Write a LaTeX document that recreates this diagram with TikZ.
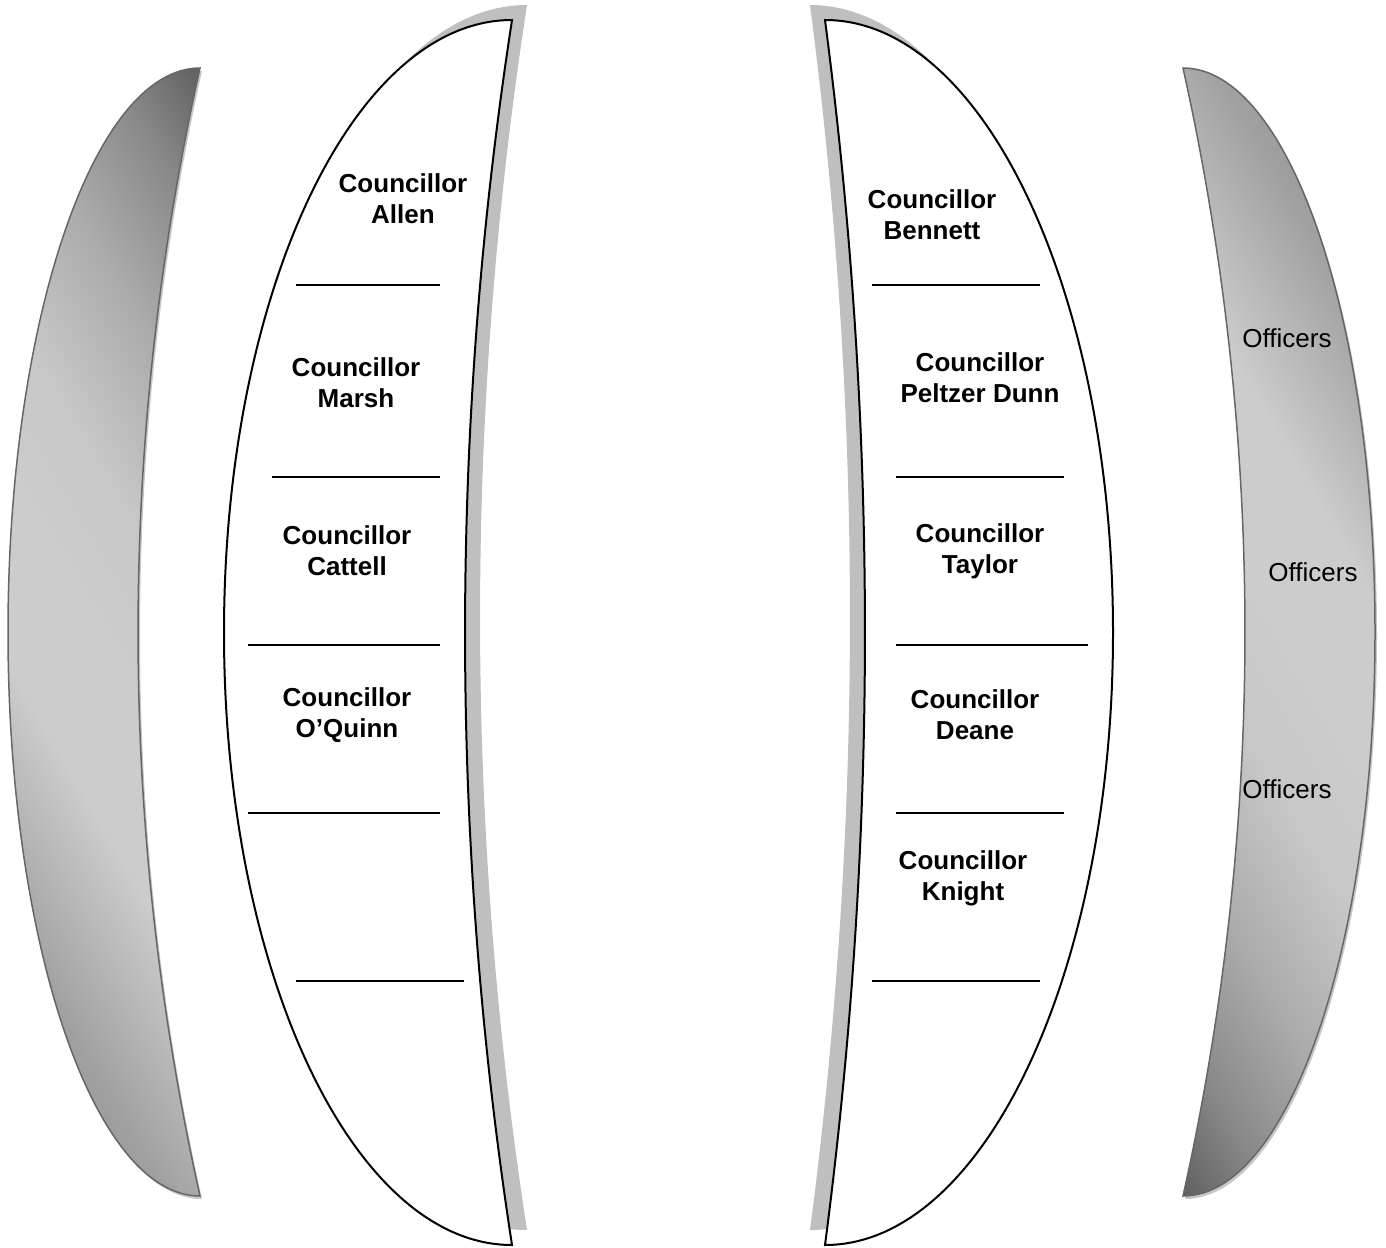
\documentclass[tikz,border=0pt]{standalone}
\usepackage{fontspec}
\setmainfont{Liberation Sans}
\pgfdeclareverticalshading{moonfill}{100bp}{color(0bp)=(black!42); color(25bp)=(black!40); color(28.5bp)=(black!37); color(40.8bp)=(black!20); color(50bp)=(black!20); color(57.7bp)=(black!22); color(67.8bp)=(black!33); color(76.8bp)=(black!46); color(84.2bp)=(black!62); color(100bp)=(black!65)}
% crescent outlines, in picture pixels
\def\leftgallery{(200,68) arc[start angle=270, end angle=90, x radius=192, y radius=564] arc[start angle=167.453, end angle=192.547, radius=2596.3] -- cycle}
\def\rightgallery{(1183,68) arc[start angle=270, end angle=450, x radius=192, y radius=564] arc[start angle=12.547, end angle=-12.547, radius=2596.3] -- cycle}
\def\leftbench{(512,20) arc[start angle=270, end angle=90, x radius=288, y radius=612.5] arc[start angle=171.224, end angle=188.776, radius=4014.5] -- cycle}
\def\rightbench{(825,20) arc[start angle=270, end angle=450, x radius=288, y radius=612.5] arc[start angle=7.473, end angle=-7.473, radius=4709.5] -- cycle}
\tikzset{
  gallery/.style={
    draw = black!60,
    line width = 0.75pt,
    shading = moonfill
  },
  galleryshadow/.style={
    fill = black!22
  },
  bench/.style={
    draw = black,
    line width = 1pt,
    fill = white
  },
  benchshadow/.style={
    fill = black!25
  },
  seat/.style={
    line width = 1pt
  },
  member/.style={
    font = \fontsize{13}{15.5}\selectfont\bfseries,
    align = center,
    inner sep = 0pt
  },
  officer/.style={
    font = \fontsize{13}{15.5}\selectfont,
    inner sep = 0pt
  }
}

\begin{document}
\begin{tikzpicture}[x=0.5pt, y=-0.5pt]
        \useasboundingbox (0,0) rectangle (1386,1247);

        % side galleries
        \fill[galleryshadow, shift={(2,3)}] \leftgallery;
        \fill[galleryshadow, shift={(2,3)}] \rightgallery;
        \path[gallery, shading angle=-59.6] \leftgallery;
        \path[gallery, shading angle=120.4] \rightgallery;

        % benches
        \fill[benchshadow, shift={(15,-15)}] \leftbench;
        \fill[benchshadow, shift={(-15,-15)}] \rightbench;
        \path[bench] \leftbench;
        \path[bench] \rightbench;

        \foreach \y/\xa/\xb in {285/296/440, 477/272/440, 645/248/440, 813/248/440, 981/296/464}
            \draw[seat] (\xa,\y) -- (\xb,\y);
        \foreach \y/\xa/\xb in {285/872/1040, 477/896/1064, 645/896/1088, 813/896/1064, 981/872/1040}
            \draw[seat] (\xa,\y) -- (\xb,\y);

        \node[member] (allen) at (403,199) {Councillor\\Allen};
        \node[member] (marsh) at (356,383) {Councillor\\Marsh};
        \node[member] (cattell) at (347,551) {Councillor\\Cattell};
        \node[member] (oquinn) at (347,715) {Councillor\\O’Quinn};

        \node[member] (bennett) at (932,215) {Councillor\\Bennett};
        \node[member] (peltzer) at (980,378) {Councillor\\Peltzer Dunn};
        \node[member] (taylor) at (980,551) {Councillor\\Taylor};
        \node[member] (deane) at (975,715) {Councillor\\Deane};
        \node[member] (knight) at (963,878) {Councillor\\Knight};

        \node[officer] (officersA) at (1287,338) {Officers};
        \node[officer] (officersB) at (1313,572) {Officers};
        \node[officer] (officersC) at (1287,789) {Officers};
\end{tikzpicture}
\end{document}
